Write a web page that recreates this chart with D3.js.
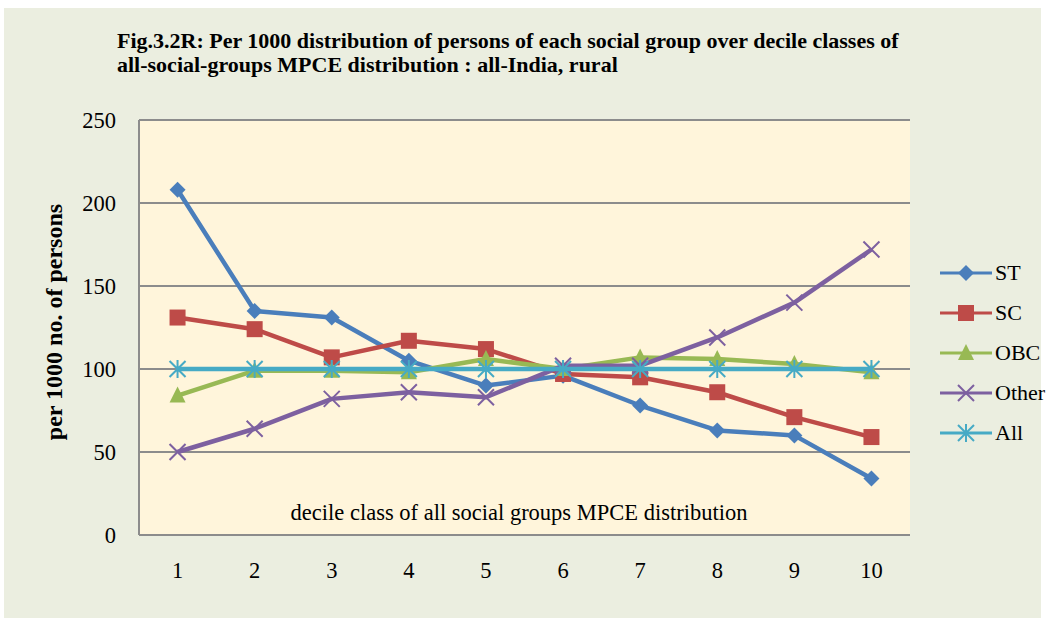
<!DOCTYPE html>
<html>
<head>
<meta charset="utf-8">
<script src="https://cdn.jsdelivr.net/npm/d3@7"></script>
<style>
  body { margin: 0; background: #fff; }
  svg text { font-family: "Liberation Serif", "Times New Roman", Times, serif; }
</style>
</head>
<body>
<script>
var width = 1047;
var height = 620;

// data
var deciles = ["1", "2", "3", "4", "5", "6", "7", "8", "9", "10"];
var stVals = [208, 135, 131, 105, 90, 96, 78, 63, 60, 34];
var scVals = [131, 124, 107, 117, 112, 97, 95, 86, 71, 59];
var obcVals = [84, 99, 99, 98, 106, 100, 107, 106, 103, 98];
var otherVals = [50, 64, 82, 86, 83, 102, 102, 119, 140, 172];
var allVals = [100, 100, 100, 100, 100, 100, 100, 100, 100, 100];
var yTicks = [0, 50, 100, 150, 200, 250];
var seriesNames = ["ST", "SC", "OBC", "Other", "All"];

var series = [
  { values: stVals, color: "#4a7ebb", marker: "diamond" },
  { values: scVals, color: "#be4b48", marker: "square" },
  { values: obcVals, color: "#98b954", marker: "triangle" },
  { values: otherVals, color: "#7d60a0", marker: "cross" },
  { values: allVals, color: "#46aac5", marker: "star" }
];

var plot = { left: 139, right: 910, top: 120, bottom: 535 };
var serif = "'Liberation Serif', 'Times New Roman', serif";

var svg = d3.select("body").append("svg")
  .attr("width", width)
  .attr("height", height);

// outer background
svg.append("rect")
  .attr("x", 4).attr("y", 8)
  .attr("width", 1037).attr("height", 610)
  .style("fill", "#ebeee0");

svg.append("rect")
  .attr("x", plot.left).attr("y", plot.top)
  .attr("width", plot.right - plot.left).attr("height", plot.bottom - plot.top)
  .style("fill", "#fff5db");

var x = d3.scaleBand()
  .domain(deciles)
  .range([plot.left, plot.right]);

var y = d3.scaleLinear()
  .domain([0, 250])
  .range([plot.bottom, plot.top]);

// gridlines
svg.selectAll(".grid")
  .data(yTicks)
  .enter().append("line")
  .attr("x1", plot.left).attr("x2", plot.right)
  .attr("y1", function(d) { return y(d); })
  .attr("y2", function(d) { return y(d); })
  .style("stroke", "#8c8c8c")
  .style("stroke-width", 2);

svg.append("line")
  .attr("x1", plot.left).attr("x2", plot.left)
  .attr("y1", plot.top).attr("y2", plot.bottom)
  .style("stroke", "#8c8c8c")
  .style("stroke-width", 2);

// y axis labels
var yAxis = d3.axisLeft(y).tickValues(yTicks).tickSize(0).tickPadding(23);
var yg = svg.append("g")
  .attr("transform", "translate(" + plot.left + ",0)")
  .call(yAxis);
yg.select(".domain").remove();
yg.selectAll("text")
  .style("font-family", serif)
  .style("font-size", "22.5px")
  .style("fill", "#000");

// x axis labels
var xAxis = d3.axisBottom(x).tickSize(0).tickPadding(27);
var xg = svg.append("g")
  .attr("transform", "translate(0," + plot.bottom + ")")
  .call(xAxis);
xg.select(".domain").remove();
xg.selectAll("text")
  .style("font-family", serif)
  .style("font-size", "22.5px")
  .style("fill", "#000");

// titles
svg.append("text")
  .attr("x", 117).attr("y", 48)
  .style("font-family", serif)
  .style("font-size", "22px")
  .style("font-weight", "bold")
  .text("Fig.3.2R: Per 1000 distribution of persons of each social group over decile classes of");
svg.append("text")
  .attr("x", 117).attr("y", 72)
  .style("font-family", serif)
  .style("font-size", "22px")
  .style("font-weight", "bold")
  .text("all-social-groups MPCE distribution : all-India, rural");

svg.append("text")
  .attr("transform", "translate(62,322) rotate(-90)")
  .attr("text-anchor", "middle")
  .style("font-family", serif)
  .style("font-size", "24px")
  .style("font-weight", "bold")
  .text("per 1000 no. of persons");

svg.append("text")
  .attr("x", 519)
  .attr("y", 520)
  .attr("text-anchor", "middle")
  .style("font-family", serif)
  .style("font-size", "22.5px")
  .text("decile class of all social groups MPCE distribution");

function cx(i) { return x(deciles[i]) + x.bandwidth() / 2; }

function drawMarker(g, type, color, px, py) {
  if (type === "diamond") {
    g.append("path")
      .attr("d", "M" + px + "," + (py - 8) + "L" + (px + 8) + "," + py + "L" + px + "," + (py + 8) + "L" + (px - 8) + "," + py + "Z")
      .style("fill", color);
  } else if (type === "square") {
    g.append("rect")
      .attr("x", px - 8).attr("y", py - 8)
      .attr("width", 16).attr("height", 16)
      .style("fill", color);
  } else if (type === "triangle") {
    g.append("path")
      .attr("d", "M" + px + "," + (py - 9) + "L" + (px + 8) + "," + (py + 7) + "L" + (px - 8) + "," + (py + 7) + "Z")
      .style("fill", color);
  } else if (type === "cross") {
    g.append("path")
      .attr("d", "M" + (px - 8) + "," + (py - 8) + "L" + (px + 8) + "," + (py + 8) + "M" + (px + 8) + "," + (py - 8) + "L" + (px - 8) + "," + (py + 8))
      .style("stroke", color).style("stroke-width", 2).style("fill", "none");
  } else {
    g.append("path")
      .attr("d", "M" + (px - 8) + "," + (py - 8) + "L" + (px + 8) + "," + (py + 8) + "M" + (px + 8) + "," + (py - 8) + "L" + (px - 8) + "," + (py + 8) + "M" + px + "," + (py - 9) + "L" + px + "," + (py + 9))
      .style("stroke", color).style("stroke-width", 2).style("fill", "none");
  }
}

var line = d3.line()
  .x(function(d, i) { return cx(i); })
  .y(function(d) { return y(d); });

series.forEach(function(s) {
  var g = svg.append("g");
  g.append("path")
    .datum(s.values)
    .attr("d", line)
    .style("fill", "none")
    .style("stroke", s.color)
    .style("stroke-width", 4.5)
    .style("stroke-linejoin", "round");
  s.values.forEach(function(v, i) {
    drawMarker(g, s.marker, s.color, cx(i), y(v));
  });
});

// legend
series.forEach(function(s, i) {
  var ly = 273 + i * 40;
  var g = svg.append("g");
  g.append("line")
    .attr("x1", 940).attr("x2", 992)
    .attr("y1", ly).attr("y2", ly)
    .style("stroke", s.color)
    .style("stroke-width", 3);
  drawMarker(g, s.marker, s.color, 966, ly);
  g.append("text")
    .attr("x", 995).attr("y", ly + 7)
    .style("font-family", serif)
    .style("font-size", "22px")
    .text(seriesNames[i]);
});
</script>
</body>
</html>
